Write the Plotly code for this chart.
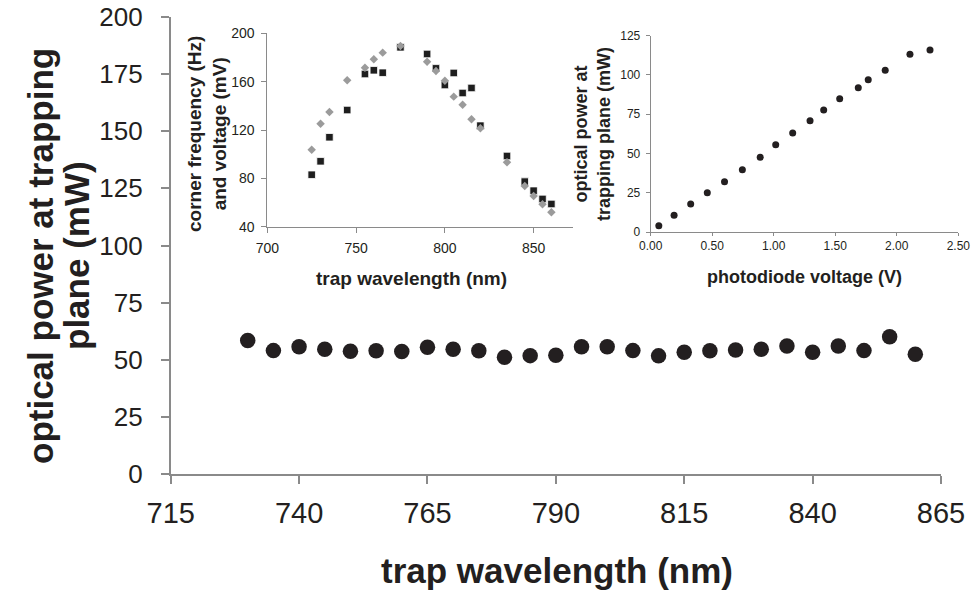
import plotly.graph_objects as go

# ---- main panel data ----
main_wl = [730, 735, 740, 745, 750, 755, 760, 765, 770, 775, 780, 785, 790,
           795, 800, 805, 810, 815, 820, 825, 830, 835, 840, 845, 850, 855, 860]
main_power = [58.4, 54.0, 55.7, 54.6, 53.7, 53.9, 53.6, 55.5, 54.6, 53.9, 51.1, 51.8, 52.0,
              55.7, 55.7, 54.0, 51.7, 53.3, 53.9, 54.3, 54.6, 56.0, 53.3, 56.0, 54.0, 60.1, 52.4]
main_xticks = [715, 740, 765, 790, 815, 840, 865]
main_yticks = [0, 25, 50, 75, 100, 125, 150, 175, 200]

# ---- inset 1: corner frequency / voltage vs wavelength ----
ins1_wl = [725, 730, 735, 745, 755, 760, 765, 775, 790, 795, 800, 805, 810, 815, 820,
           835, 845, 850, 855, 860]
ins1_square = [83.0, 94.1, 114.0, 136.5, 166.3, 169.4, 167.4, 188.4, 182.9, 171.0, 157.2,
               167.2, 150.6, 154.8, 123.6, 98.5, 77.3, 69.8, 63.0, 58.8]
ins1_diamond = [103.7, 125.2, 134.9, 161.1, 171.5, 178.5, 184.0, 189.5, 176.5, 168.8, 160.8,
                147.6, 140.9, 128.9, 121.4, 93.3, 73.7, 65.4, 58.6, 51.9]
ins1_xticks = [700, 750, 800, 850]
ins1_yticks = [40, 80, 120, 160, 200]

# ---- inset 2: power vs photodiode voltage ----
ins2_volt = [0.066, 0.19, 0.325, 0.46, 0.60, 0.745, 0.89, 1.016, 1.154, 1.295, 1.406,
             1.536, 1.687, 1.768, 1.906, 2.107, 2.27]
ins2_power = [4.0, 10.6, 17.8, 25.0, 32.0, 39.7, 47.6, 55.6, 63.0, 70.9, 77.7,
              84.9, 91.9, 97.0, 103.0, 113.2, 115.9]
ins2_xticks = [0.0, 0.5, 1.0, 1.5, 2.0, 2.5]
ins2_yticks = [0, 25, 50, 75, 100, 125]

W, H = 974, 593
def px(x):
    return x / W
def py(y):
    return (H - y) / H

FONT = "Arial, Liberation Sans, sans-serif"
AX = "#8a8a8a"
TXT = "#231f20"

fig = go.Figure()

fig.add_trace(go.Scatter(x=main_wl, y=main_power, mode="markers",
                         marker=dict(size=15.5, color=TXT, line=dict(width=0)),
                         xaxis="x", yaxis="y", showlegend=False))
fig.add_trace(go.Scatter(x=ins1_wl, y=ins1_square, mode="markers",
                         marker=dict(symbol="square", size=7.5, color="#1e1e1e",
                                     line=dict(width=0.8, color="white")),
                         xaxis="x2", yaxis="y2", showlegend=False))
fig.add_trace(go.Scatter(x=ins1_wl, y=ins1_diamond, mode="markers",
                         marker=dict(symbol="diamond", size=6.5, color="#9b9b9b",
                                     line=dict(width=0)),
                         xaxis="x2", yaxis="y2", showlegend=False))
fig.add_trace(go.Scatter(x=ins2_volt, y=ins2_power, mode="markers",
                         marker=dict(size=7, color=TXT, line=dict(width=0)),
                         xaxis="x3", yaxis="y3", showlegend=False))

common = dict(showgrid=False, zeroline=False, showline=True, linecolor=AX,
              ticks="outside", tickcolor=AX, automargin=False)

fig.update_layout(
    template="none",
    width=W, height=H, margin=dict(l=0, r=0, t=0, b=0, pad=0, autoexpand=False),
    paper_bgcolor="white", plot_bgcolor="rgba(0,0,0,0)",
    font=dict(family=FONT, color=TXT),
    xaxis=dict(**common, domain=[px(170.7), px(941)], range=[715, 865],
               tickvals=main_xticks, ticktext=[str(v) for v in main_xticks],
               linewidth=2, tickwidth=2, ticklen=8, anchor="y", ticklabelstandoff=4,
               tickfont=dict(size=29, color=TXT)),
    yaxis=dict(**common, domain=[py(474), py(17)], range=[0, 200],
               tickvals=main_yticks, ticktext=[str(v) for v in main_yticks],
               linewidth=1.5, tickwidth=1.5, ticklen=8, anchor="x", ticklabelstandoff=13,
               tickfont=dict(size=26, color=TXT)),
    xaxis2=dict(**common, domain=[px(267.3), px(572.7)], range=[700, 872],
                tickvals=ins1_xticks, ticktext=[str(v) for v in ins1_xticks],
                linewidth=1, ticklen=5, anchor="y2", ticklabelstandoff=3,
                tickfont=dict(size=14, color=TXT)),
    yaxis2=dict(**common, domain=[py(226.7), py(33.3)], range=[40, 200],
                tickvals=ins1_yticks, ticktext=[str(v) for v in ins1_yticks],
                linewidth=1, ticklen=5, anchor="x2", ticklabelstandoff=4,
                tickfont=dict(size=14, color=TXT)),
    xaxis3=dict(**common, domain=[px(650.7), px(958.3)], range=[0, 2.5],
                tickvals=ins2_xticks, ticktext=["%.2f" % v for v in ins2_xticks],
                linewidth=1, ticklen=3, anchor="y3", ticklabelstandoff=0,
                tickfont=dict(size=12, color=TXT)),
    yaxis3=dict(**common, domain=[py(232), py(35.7)], range=[0, 125],
                tickvals=ins2_yticks, ticktext=[str(v) for v in ins2_yticks],
                linewidth=1, ticklen=4, anchor="x3", ticklabelstandoff=3,
                tickfont=dict(size=12, color=TXT)),
)

ann = [
    dict(text="<b>trap wavelength (nm)</b>", x=px(557), y=py(570), font=dict(size=35)),
    dict(text="<b>optical power at trapping</b>", x=px(40), y=py(256),
         textangle=-90, font=dict(size=35)),
    dict(text="<b>plane (mW)</b>", x=px(76), y=py(256),
         textangle=-90, font=dict(size=35)),
    dict(text="<b>trap wavelength (nm)</b>", x=px(411), y=py(278), font=dict(size=19)),
    dict(text="<b>corner frequency (Hz)<br>and voltage (mV)</b>", x=px(207), y=py(134),
         textangle=-90, font=dict(size=19)),
    dict(text="<b>photodiode voltage (V)</b>", x=px(804), y=py(277), font=dict(size=18)),
    dict(text="<b>optical power at<br>trapping plane (mW)</b>", x=px(592), y=py(134),
         textangle=-90, font=dict(size=18)),
]
for a in ann:
    fig.add_annotation(xref="paper", yref="paper", showarrow=False,
                       xanchor="center", yanchor="middle", **a)

fig.write_html("out.html")
